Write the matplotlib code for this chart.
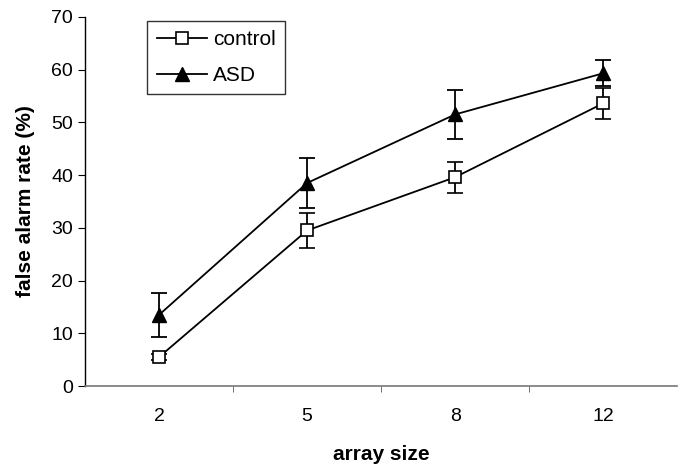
import matplotlib
matplotlib.use('Agg')
import matplotlib.pyplot as plt
import numpy as np

plt.rcParams['font.family'] = ['Liberation Sans', 'DejaVu Sans']

# 数据
array_sizes = ['2', '5', '8', '12']
control_mean = [5.5, 29.5, 39.6, 53.6]
control_err = [0.5, 3.3, 2.9, 3.0]
asd_mean = [13.5, 38.5, 51.5, 59.3]
asd_err = [4.2, 4.8, 4.7, 2.5]

fig = plt.figure(figsize=(6.91, 4.68), dpi=100)
ax = fig.add_axes([0.123, 0.175, 0.857, 0.789])

x = np.arange(len(array_sizes))
ax.errorbar(x, control_mean, yerr=control_err, color='black', lw=1.3,
            marker='s', ms=8.5, mfc='white', mec='black', mew=1.2,
            capsize=5.5, capthick=1.3, elinewidth=1.3, label='control', zorder=3)
ax.errorbar(x, asd_mean, yerr=asd_err, color='black', lw=1.3,
            marker='^', ms=10, mfc='black', mec='black',
            capsize=5.5, capthick=1.3, elinewidth=1.3, label='ASD', zorder=3)

ax.set_xlim(-0.5, 3.5)
ax.set_ylim(0, 70)
ax.set_yticks(range(0, 71, 10))
ax.set_xticks(x)
ax.set_xticklabels(array_sizes)
ax.set_xticks([0.5, 1.5, 2.5], minor=True)
ax.tick_params(axis='x', which='major', length=0, pad=16, labelsize=14)
ax.tick_params(axis='x', which='minor', length=4, direction='out', color='#555555')
ax.tick_params(axis='y', length=5, direction='out', labelsize=14)

for s in ['top', 'right']:
    ax.spines[s].set_visible(False)
ax.spines['bottom'].set_color('#777777')
ax.spines['bottom'].set_linewidth(1.2)
ax.spines['left'].set_linewidth(1.0)

ax.set_xlabel('array size', fontsize=15, fontweight='bold', labelpad=14)
ax.set_ylabel('false alarm rate (%)', fontsize=15, fontweight='bold', labelpad=12)

# 图例 去掉误差线
handles, labels = ax.get_legend_handles_labels()
handles = [h[0] for h in handles]
leg = ax.legend(handles, labels, loc='upper left', bbox_to_anchor=(0.105, 0.989),
                borderaxespad=0, fontsize=15, frameon=True, fancybox=False,
                edgecolor='black', handlelength=2.4, handletextpad=0.3,
                borderpad=0.45, labelspacing=0.8)
leg.get_frame().set_linewidth(1.0)

fig.savefig('out.png', dpi=100)
